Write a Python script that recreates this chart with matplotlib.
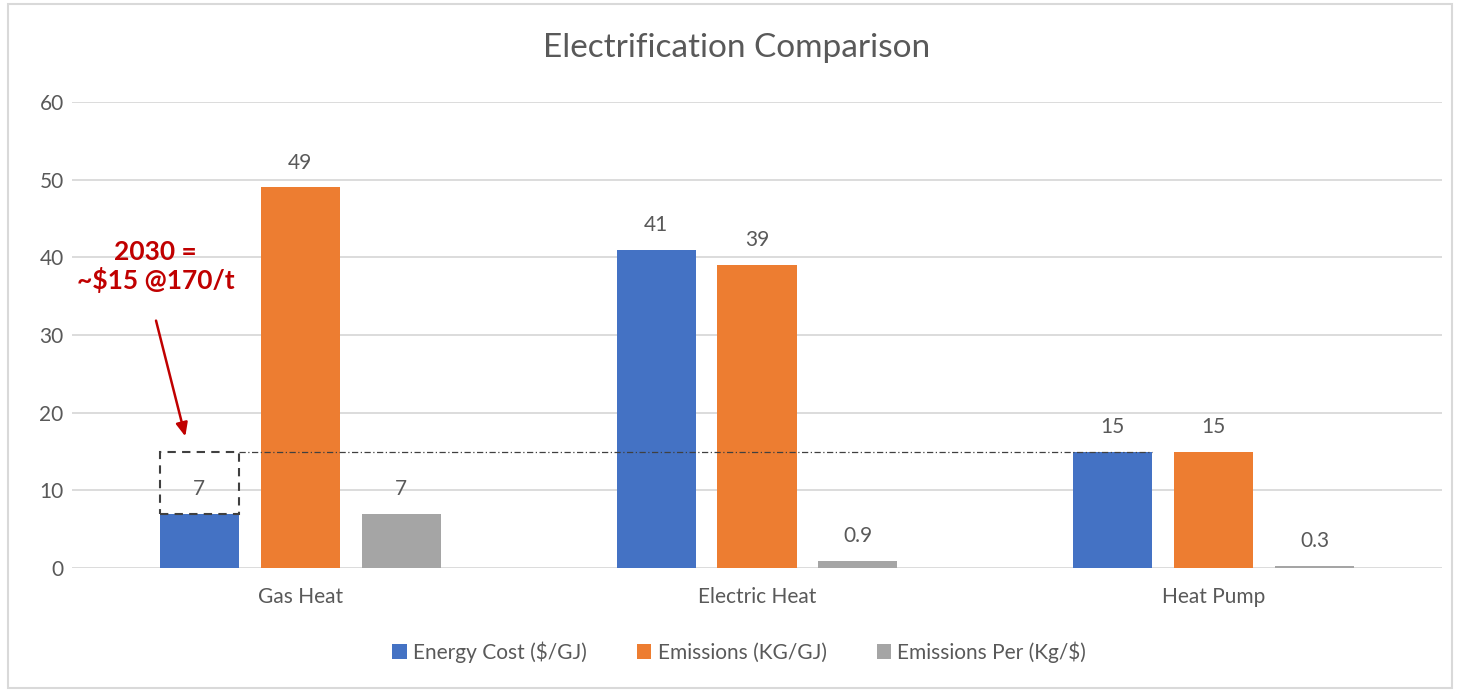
import matplotlib.pyplot as plt
import numpy as np
from matplotlib.patches import Rectangle

plt.rcParams["font.family"] = ["Lato", "DejaVu Sans"]

# Chart data
categories = ["Gas Heat", "Electric Heat", "Heat Pump"]
series_names = ["Energy Cost ($/GJ)", "Emissions (KG/GJ)", "Emissions Per (Kg/$)"]
energy_cost = [7, 41, 15]
emissions = [49, 39, 15]
emissions_per = [7, 0.9, 0.3]
labels = [["7", "41", "15"], ["49", "39", "15"], ["7", "0.9", "0.3"]]
carbon_price_cost = 15  # gas heat cost in 2030 with carbon tax
note = "2030 =\n~$15 @170/t"

COLORS = ["#4472C4", "#ED7D31", "#A5A5A5"]
TXT = "#595959"
GRID = "#D9D9D9"

fig = plt.figure(figsize=(14.58, 6.9), dpi=100)
ax = fig.add_axes([72 / 1458, 1 - 568 / 690, 1370 / 1458, 466 / 690])

x = np.arange(len(categories))
width = 0.173
step = 0.221
values = [energy_cost, emissions, emissions_per]

for i, (vals, name, col) in enumerate(zip(values, series_names, COLORS)):
    pos = x + (i - 1) * step
    ax.bar(pos, vals, width, color=col, label=name, zorder=3)
    for p, v, lab in zip(pos, vals, labels[i]):
        ax.text(p, v + 3.2, lab, ha="center", va="center", fontsize=15, color=TXT)

ax.set_xlim(-0.5, 2.5)
ax.set_ylim(0, 60)
ax.set_yticks(np.arange(0, 61, 10))
ax.grid(axis="y", color=GRID, linewidth=1.3, zorder=0)
ax.tick_params(axis="both", length=0, labelsize=15, colors=TXT)
ax.tick_params(axis="y", pad=6)
ax.tick_params(axis="x", pad=14)
ax.set_xticks(x)
ax.set_xticklabels(categories)
for s in ax.spines.values():
    s.set_visible(False)

# dashed box showing 2030 gas heat cost
left = x[0] - step - width / 2
ax.add_patch(Rectangle((left, energy_cost[0]), width, carbon_price_cost - energy_cost[0],
                       fill=False, edgecolor="#404040", linestyle=(0, (4, 3)),
                       linewidth=1.5, zorder=4))
ax.plot([left + width, x[2] - step + width / 2], [carbon_price_cost] * 2,
        color="#404040", linestyle=(0, (5, 2, 1, 2)), linewidth=0.9, zorder=4)

ax.annotate("", xy=(left + width * 0.33, carbon_price_cost + 1.6),
            xytext=(left - 0.01, 32.2),
            arrowprops=dict(arrowstyle="-|>,head_width=0.35,head_length=0.8",
                            color="#C00000", linewidth=1.8), zorder=5)
ax.text(left - 0.01, 38.8, note, ha="center", va="center", fontsize=19,
        fontweight="bold", color="#C00000", linespacing=1.15)

fig.text(0.505, 1 - 48 / 690, "Electrification Comparison", ha="center",
         va="center", fontsize=24, color=TXT)

leg = fig.legend(loc="center", bbox_to_anchor=(0.507, 1 - 652 / 690), ncol=3,
                 frameon=False, fontsize=15, handlelength=0.7, handleheight=0.7,
                 handletextpad=0.3, columnspacing=2.4, labelcolor=TXT)

fig.patches.append(Rectangle((8 / 1458, 2 / 690), 1444 / 1458, 684 / 690,
                             transform=fig.transFigure, fill=False,
                             edgecolor="#D9D9D9", linewidth=1.5))

fig.savefig("out.png", dpi=100)
